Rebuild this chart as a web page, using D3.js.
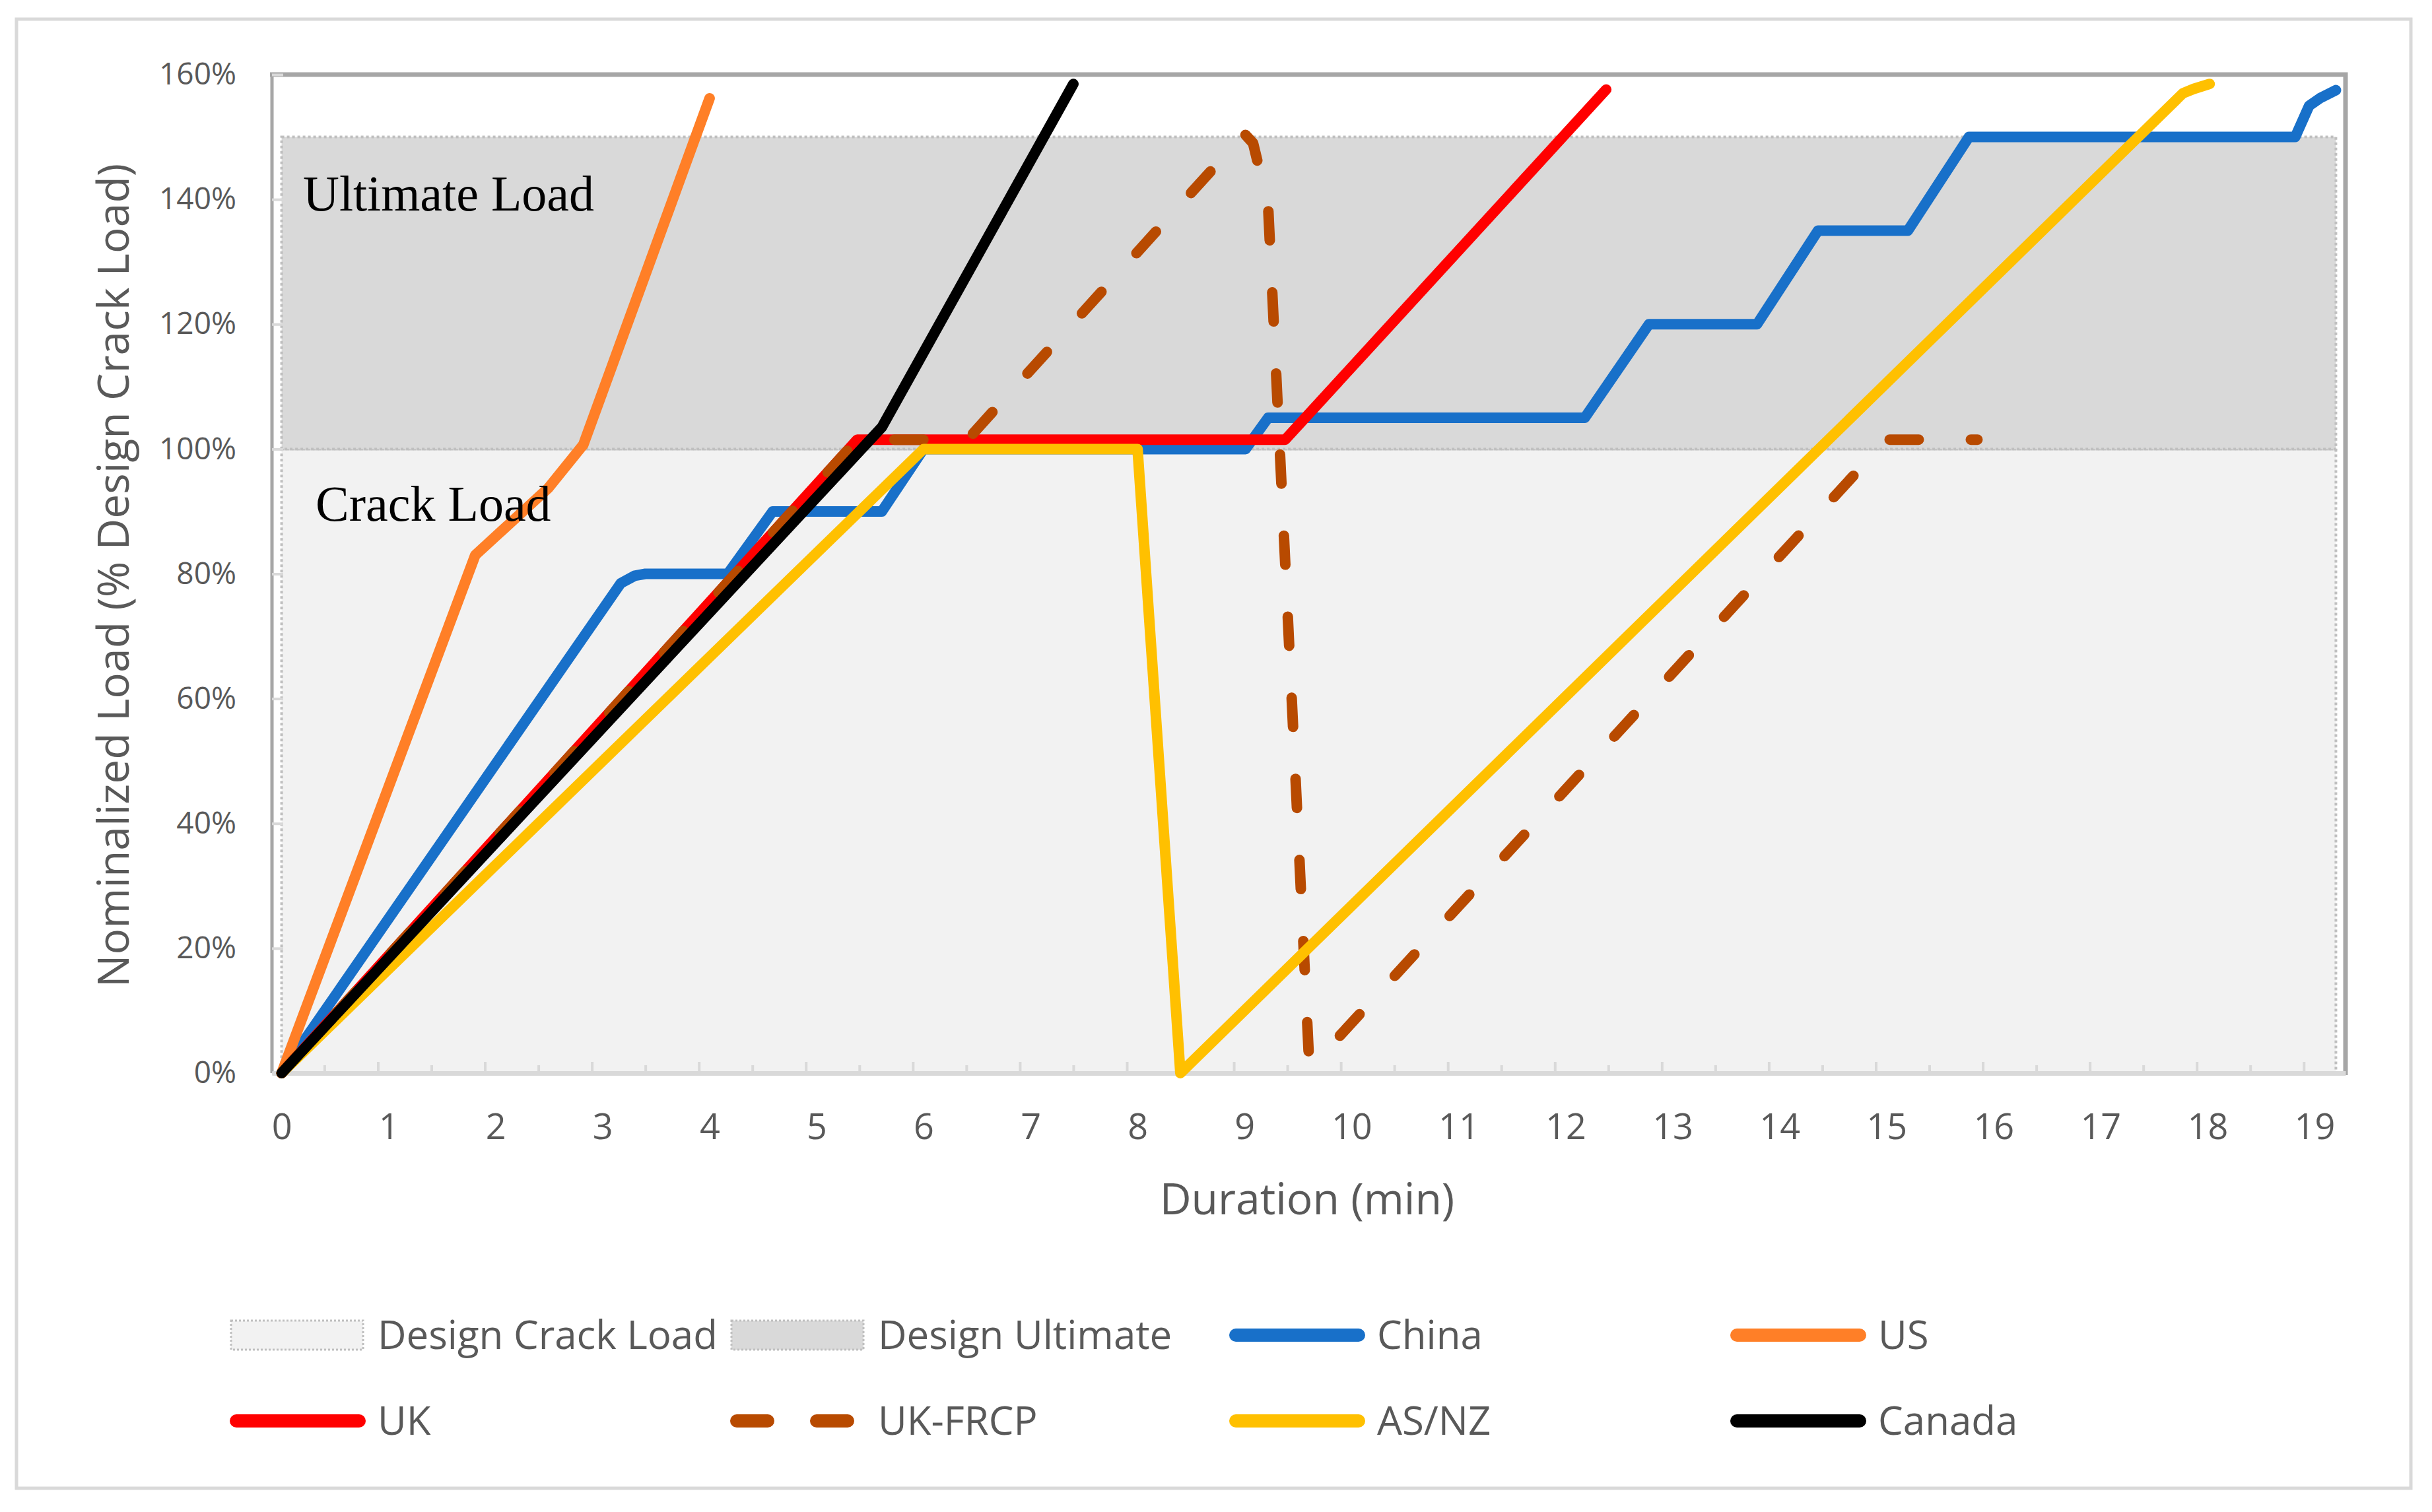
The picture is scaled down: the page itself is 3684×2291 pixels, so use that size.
<!DOCTYPE html>
<html>
<head>
<meta charset="utf-8">
<script src="https://cdn.jsdelivr.net/npm/d3@7"></script>
<style>
  body { margin: 0; background: #fff; }
  svg { display: block; font-family: "Open Sans", sans-serif; }
</style>
</head>
<body>
<svg id="chart" width="3684" height="2291"></svg>
<script>
// ---- data (duration in min, load as fraction of design crack load) ----
const xTickLabels = [0, 1, 2, 3, 4, 5, 6, 7, 8, 9, 10, 11, 12, 13, 14, 15, 16, 17, 18, 19];
const yTicks = [0, 0.2, 0.4, 0.6, 0.8, 1.0, 1.2, 1.4, 1.6];
const majorTicks = [0.9, 1.9, 2.9, 3.9, 4.9, 5.9, 6.9, 7.9, 8.9, 9.9, 10.9, 11.9, 12.9, 13.9, 14.9, 15.9, 16.9, 17.9, 18.9];
const minorTicks = [0.4, 1.4, 2.4, 3.4, 4.4, 5.4, 6.4, 7.4, 8.4, 9.4, 10.4, 11.4, 12.4, 13.4, 14.4, 15.4, 16.4, 17.4, 18.4];

// bands: [x, low, high]
const crackBand = [[0, 0, 1.0], [19.2, 0, 1.0]];
const ultimateBand = [[0, 1.0, 1.5], [19.2, 1.0, 1.5]];

const china = [[0, 0], [3.17, 0.785], [3.3, 0.797], [3.4, 0.80], [4.17, 0.80], [4.59, 0.90], [5.61, 0.90],
  [6.0, 1.0], [9.01, 1.0], [9.22, 1.05], [12.18, 1.05], [12.78, 1.20], [13.79, 1.20], [14.36, 1.35],
  [15.2, 1.35], [15.77, 1.50], [18.82, 1.50], [18.95, 1.55], [19.05, 1.562], [19.2, 1.575]];
const us = [[0, 0], [1.81, 0.83], [2.49, 0.937], [2.82, 1.007], [4.0, 1.562]];
const uk = [[0, 0], [5.38, 1.015], [9.38, 1.015], [12.38, 1.576]];
const ukFrcp = [[0, 0], [5.38, 1.015], [6.41, 1.015], [9.0, 1.505], [9.08, 1.49], [9.15, 1.44], [9.22, 1.39],
  [9.6, 0.03], [9.65, 0.015], [15.0, 1.015], [15.85, 1.015]];
const asnz = [[0, 0], [6.0, 1.0], [8.0, 1.0], [8.4, 0], [17.77, 1.57], [17.87, 1.577], [18.02, 1.585]];
const canada = [[0, 0], [5.61, 1.035], [7.4, 1.585]];

const series = [
  { name: 'China', data: china, color: '#1870c9' },
  { name: 'US', data: us, color: '#ff7f27' },
  { name: 'UK', data: uk, color: '#ff0000' },
  { name: 'UK-FRCP', data: ukFrcp, color: '#b84a00', dashed: true },
  { name: 'AS/NZ', data: asnz, color: '#ffc000' },
  { name: 'Canada', data: canada, color: '#000000' }
];

// ---- setup ----
const W = 3684, H = 2291;
const svg = d3.select('#chart');
const x = d3.scaleLinear().domain([-0.09, 19.29]).range([412, 3553]);
const y = d3.scaleLinear().domain([0, 1.6]).range([1626, 113]);
const textGrey = '#595959';

svg.append('rect').attr('width', W).attr('height', H).attr('fill', '#fff');
svg.append('rect')
  .attr('x', 25).attr('y', 29).attr('width', 3627).attr('height', 2226)
  .attr('fill', 'none').attr('stroke', '#d9d9d9').attr('stroke-width', 5);

// shaded design bands
const band = d3.area().x(d => x(d[0])).y0(d => y(d[1])).y1(d => y(d[2]));
[[crackBand, '#f2f2f2'], [ultimateBand, '#d9d9d9']].forEach(([b, fill]) => {
  svg.append('path').datum(b)
    .attr('d', band)
    .attr('fill', fill)
    .attr('stroke', '#bfbfbf')
    .attr('stroke-width', 4)
    .attr('stroke-dasharray', '4,4');
});

// plot border (left, top, right)
svg.append('line').attr('x1', 412).attr('y1', 1626).attr('x2', 412).attr('y2', 110)
  .attr('stroke', '#a6a6a6').attr('stroke-width', 5);
svg.append('path').attr('d', 'M409,113 H3553 V1629')
  .attr('fill', 'none').attr('stroke', '#a6a6a6').attr('stroke-width', 7);

// x axis: tick marks
const xAxisG = svg.append('g').attr('transform', `translate(0,${y(0)})`);
xAxisG.append('g')
  .call(d3.axisBottom(x).tickValues(minorTicks).tickSize(-12).tickFormat('').tickSizeOuter(0))
  .call(g => g.select('.domain').remove());
xAxisG.append('g')
  .call(d3.axisBottom(x).tickValues(majorTicks).tickSize(-17).tickFormat('').tickSizeOuter(0))
  .call(g => g.select('.domain').attr('stroke', '#d9d9d9').attr('stroke-width', 7));
xAxisG.selectAll('.tick line').attr('stroke', '#d9d9d9').attr('stroke-width', 4);

// x axis: labels
svg.append('g').attr('transform', `translate(0,${y(0)})`)
  .call(d3.axisBottom(x).tickValues(xTickLabels).tickSize(0).tickPadding(62).tickFormat(d3.format('d')))
  .call(g => g.select('.domain').remove())
  .call(g => g.selectAll('text').attr('font-size', 54).attr('fill', textGrey).attr('font-family', 'Open Sans'));

// y axis
svg.append('g').attr('transform', `translate(${x.range()[0]},0)`)
  .call(d3.axisLeft(y).tickValues(yTicks).tickSize(-17).tickPadding(54).tickFormat(d3.format('.0%')))
  .call(g => g.select('.domain').remove())
  .call(g => g.selectAll('.tick line').attr('stroke', '#d9d9d9').attr('stroke-width', 4))
  .call(g => g.selectAll('text').attr('font-size', 46).attr('fill', textGrey).attr('font-family', 'Open Sans'));

// series
const line = d3.line().x(d => x(d[0])).y(d => y(d[1]));
series.forEach(s => {
  svg.append('path').datum(s.data)
    .attr('d', line)
    .attr('fill', 'none')
    .attr('stroke', s.color)
    .attr('stroke-width', 16)
    .attr('stroke-linejoin', 'round')
    .attr('stroke-linecap', 'round')
    .attr('stroke-dasharray', s.dashed ? '44,79' : null);
});

// annotations
svg.append('text').attr('x', 459).attr('y', 319).text('Ultimate Load')
  .attr('font-family', 'Liberation Serif').attr('font-size', 76).attr('fill', '#000');
svg.append('text').attr('x', 478).attr('y', 789).text('Crack Load')
  .attr('font-family', 'Liberation Serif').attr('font-size', 76).attr('fill', '#000');

// axis titles
svg.append('text').attr('x', 1980).attr('y', 1840).attr('text-anchor', 'middle')
  .attr('font-size', 66).attr('fill', textGrey).text('Duration (min)');
svg.append('text').attr('transform', 'translate(195,872) rotate(-90)').attr('text-anchor', 'middle')
  .attr('font-size', 66).attr('fill', textGrey).text('Nominalized Load (% Design Crack Load)');

// legend
const legendCols = [348, 1106, 1862, 2621];
const legendRows = [2023, 2153];
const legendItems = [
  { name: 'Design Crack Load', fill: '#f2f2f2' },
  { name: 'Design Ultimate', fill: '#d9d9d9' },
  ...series
];
legendItems.forEach((it, i) => {
  const lx = legendCols[i % 4], ly = legendRows[Math.floor(i / 4)];
  const g = svg.append('g');
  if (it.fill) {
    g.append('rect').attr('x', lx + 2).attr('y', ly - 22).attr('width', 200).attr('height', 44)
      .attr('fill', it.fill).attr('stroke', '#bfbfbf').attr('stroke-width', 3).attr('stroke-dasharray', '3,3');
  } else {
    g.append('line').attr('x1', lx + 10).attr('x2', lx + 196).attr('y1', ly).attr('y2', ly)
      .attr('stroke', it.color).attr('stroke-width', 20).attr('stroke-linecap', 'round')
      .attr('stroke-dasharray', it.dashed ? '47,74' : null);
  }
  g.append('text').attr('x', lx + 224).attr('y', ly + 21)
    .attr('font-size', 60).attr('fill', textGrey).text(it.name);
});
</script>
</body>
</html>
